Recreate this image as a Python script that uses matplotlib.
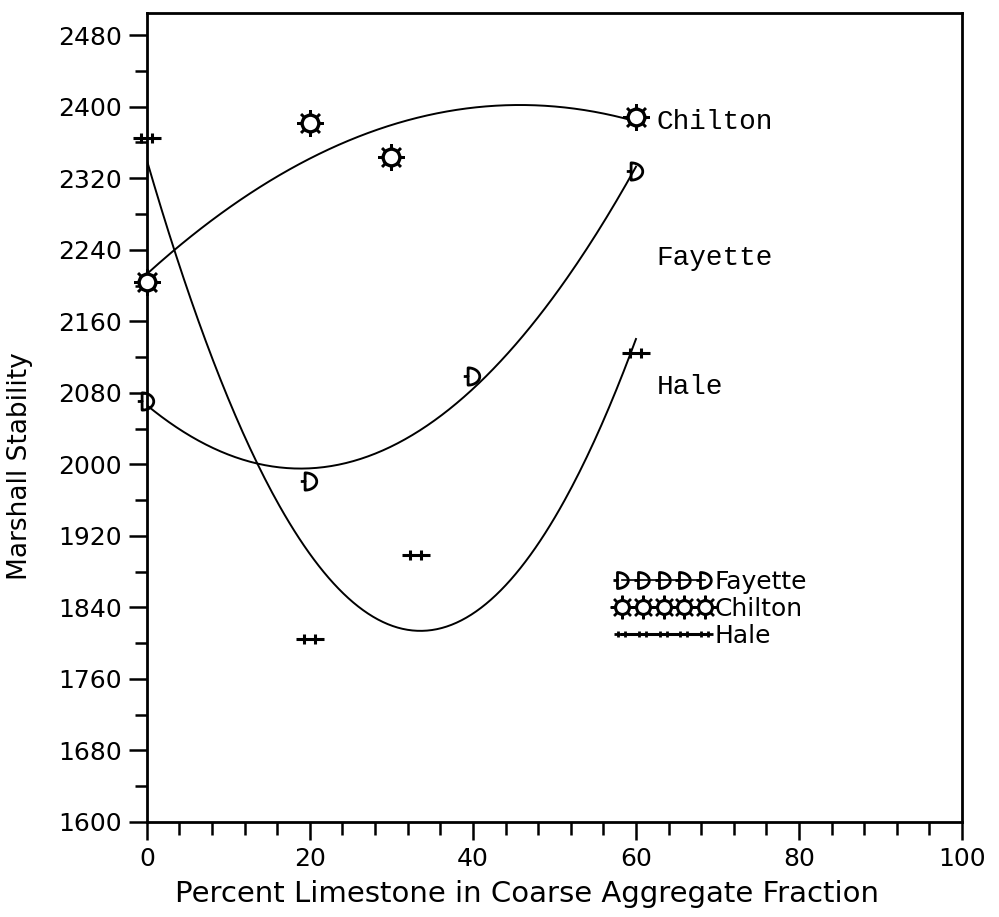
import numpy as np
import matplotlib.pyplot as plt
from matplotlib.path import Path
from matplotlib.lines import Line2D
from matplotlib.ticker import MultipleLocator

# percent limestone vs Marshall stability, three aggregate sources
fayette_x = [0, 20, 40, 60]
fayette_y = [2071, 1981, 2099, 2328]

chilton_x = [0, 20, 30, 60]
chilton_y = [2204, 2382, 2344, 2388]

hale_x = [0, 20, 33, 60]
hale_y = [2365, 1805, 1899, 2125]

names = ['Fayette', 'Chilton', 'Hale']
label_y = [2231, 2383, 2086]   # where the curve names sit at the right


def d_marker():
    t = np.linspace(-np.pi / 2, np.pi / 2, 20)
    verts = [(-0.9, 0.0), (-0.5, 0.0), (-0.5, -0.8)]
    verts += [(-0.5 + 1.2 * np.cos(a) * 0.9, 0.8 * np.sin(a)) for a in t]
    verts += [(-0.5, 0.8), (-0.5, 0.0)]
    return Path(verts)


def hale_marker():
    verts = [(-1, 0), (1, 0),
             (-0.45, -0.35), (-0.45, 0.35),
             (0.35, -0.35), (0.35, 0.35)]
    codes = [Path.MOVETO, Path.LINETO] * 3
    return Path(verts, codes)


def main():
    plt.rcParams['font.family'] = 'DejaVu Sans'
    fig = plt.figure(figsize=(9.99, 9.17), dpi=100)
    ax = fig.add_axes([0.147, 0.1036, 0.816, 0.8824])

    xs = np.linspace(0, 60, 200)
    for x, y in [(fayette_x, fayette_y), (chilton_x, chilton_y), (hale_x, hale_y)]:
        c = np.polyfit(x, y, 2)
        ax.plot(xs, np.polyval(c, xs), color='black', lw=1.4)

    dm = d_marker()
    hm = hale_marker()

    ax.plot(fayette_x, fayette_y, ls='none', marker=dm, ms=14, mfc='none',
            mec='black', mew=2, zorder=4, clip_on=False)
    ax.plot(chilton_x, chilton_y, ls='none', marker=(8, 2, 0), ms=19,
            mec='black', mew=1.8, zorder=4, clip_on=False)
    ax.plot(chilton_x, chilton_y, ls='none', marker='o', ms=12, mfc='white',
            mec='black', mew=2.4, zorder=5, clip_on=False)
    ax.plot(hale_x, hale_y, ls='none', marker=hm, ms=20, mec='black',
            mew=2.2, zorder=4, clip_on=False)

    for name, yy in zip(names, label_y):
        ax.text(62.5, yy, name, family='Liberation Mono', fontsize=20,
                va='center', ha='left')

    # legend
    h_fay = Line2D([], [], color='black', lw=1.2, marker=dm, ms=13,
                   mfc='none', mec='black', mew=2)
    h_chi1 = Line2D([], [], color='black', lw=1.2, marker=(8, 2, 0), ms=17,
                    mec='black', mew=1.7)
    h_chi2 = Line2D([], [], ls='none', marker='o', ms=10, mfc='white',
                    mec='black', mew=2.2)
    h_hal = Line2D([], [], color='black', lw=2.2, marker=hm, ms=12,
                   mec='black', mew=2)
    ax.legend([h_fay, (h_chi1, h_chi2), h_hal], names,
              loc='upper left', bbox_to_anchor=(0.574, 0.312),
              frameon=False, numpoints=5, handlelength=3.9,
              handletextpad=0.1, labelspacing=0.12, borderpad=0,
              borderaxespad=0, fontsize=18)

    ax.set_xlim(0, 100)
    ax.set_ylim(1600, 2505)
    ax.xaxis.set_major_locator(MultipleLocator(20))
    ax.xaxis.set_minor_locator(MultipleLocator(4))
    ax.yaxis.set_major_locator(MultipleLocator(80))
    ax.yaxis.set_minor_locator(MultipleLocator(40))
    ax.tick_params(which='major', direction='out', length=13, width=1.8,
                   labelsize=18, pad=5)
    ax.tick_params(which='minor', direction='out', length=9, width=1.8)
    for s in ax.spines.values():
        s.set_linewidth(2)

    ax.set_xlabel('Percent Limestone in Coarse Aggregate Fraction',
                  fontsize=21)
    ax.xaxis.set_label_coords(0.466, -0.072)
    ax.set_ylabel('Marshall Stability', fontsize=19)
    ax.yaxis.set_label_coords(-0.14, 0.44)

    plt.savefig('out.png', dpi=100)


if __name__ == '__main__':
    main()
